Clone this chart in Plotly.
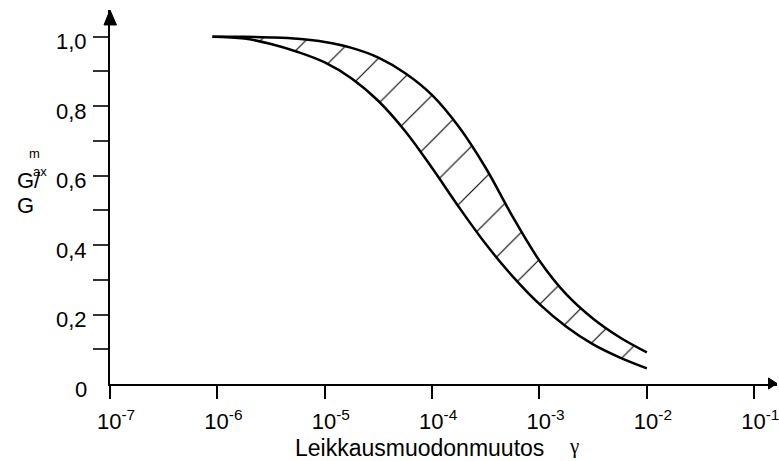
import plotly.graph_objects as go

# Data
gamma = [9e-7, 1.78e-6, 3.16e-6, 5.62e-6, 1e-5, 1.78e-5, 3.16e-5, 5.62e-5,
         1e-4, 1.78e-4, 3.16e-4, 5.62e-4, 1e-3, 1.78e-3, 3.16e-3, 5.62e-3, 1e-2]
upper = [1.0, 1.0, 0.998, 0.994, 0.985, 0.968, 0.940, 0.895,
         0.832, 0.740, 0.622, 0.482, 0.355, 0.258, 0.188, 0.134, 0.091]
lower = [1.0, 0.995, 0.979, 0.956, 0.926, 0.880, 0.815, 0.728,
         0.622, 0.509, 0.403, 0.310, 0.230, 0.165, 0.114, 0.076, 0.045]

x_tickvals = [1e-7, 1e-6, 1e-5, 1e-4, 1e-3, 1e-2, 1e-1]
x_ticktext = ["10<sup>-7</sup>", "10<sup>-6</sup>", "10<sup>-5</sup>", "10<sup>-4</sup>",
              "10<sup>-3</sup>", "10<sup>-2</sup>", "10<sup>-1</sup>"]
y_tickvals = [0.1, 0.2, 0.3, 0.4, 0.5, 0.6, 0.7, 0.8, 0.9, 1.0]
y_labelvals = [0, 0.2, 0.4, 0.6, 0.8, 1.0]
y_labeltext = ["0", "0,2", "0,4", "0,6", "0,8", "1,0"]

FONT = "Liberation Sans, Arial, sans-serif"

fig = go.Figure()
fig.add_trace(go.Scatter(x=gamma, y=lower, mode="lines", line=dict(color="black", width=2.5, shape="spline"),
                         showlegend=False, hoverinfo="skip"))
fig.add_trace(go.Scatter(x=gamma, y=upper, mode="lines", line=dict(color="black", width=2.5, shape="spline"),
                         fill="tonexty", fillcolor="rgba(0,0,0,0)",
                         fillpattern=dict(shape="/", size=32, solidity=0.035, fgcolor="black",
                                          fgopacity=1, bgcolor="white"),
                         showlegend=False, hoverinfo="skip"))

fig.update_layout(
    width=779, height=461,
    margin=dict(l=110, r=0, t=10, b=77),
    paper_bgcolor="white", plot_bgcolor="white",
    font=dict(family=FONT, size=22, color="black"),
    xaxis=dict(type="log", range=[-7, -0.788], showgrid=False, zeroline=False,
               showline=True, linecolor="black", linewidth=1.5,
               ticks="outside", ticklen=13, tickwidth=1.5, tickcolor="black",
               tickvals=x_tickvals, ticktext=x_ticktext, ticklabelshift=6,
               ticklabelstandoff=4, ticklabeloverflow="allow",
               tickfont=dict(family=FONT, size=22, color="black")),
    yaxis=dict(range=[0, 1.077], showgrid=False, zeroline=False,
               showline=True, linecolor="black", linewidth=2,
               ticks="outside", ticklen=15, tickwidth=1.5, tickcolor="#333333",
               tickvals=y_tickvals, showticklabels=False),
)

# arrowheads on the axes
fig.add_shape(type="path", xref="paper", yref="paper",
              path="M -0.009,0.960 L 0,1.0 L 0.0097,0.960 Z",
              fillcolor="black", line=dict(color="black", width=1))
fig.add_shape(type="path", xref="paper", yref="paper",
              path="M 0.9873,0.016 L 1.0,0.0013 L 0.9873,-0.0134 Z",
              fillcolor="black", line=dict(color="black", width=1))

# y tick labels (offset slightly below the ticks as in the reference)
for v, t in zip(y_labelvals, y_labeltext):
    fig.add_annotation(text=t, x=-0.0314, y=v, xref="paper", yref="y", showarrow=False,
                       xanchor="right", yanchor="middle", yshift=-5,
                       font=dict(family=FONT, size=22, color="black"))

def ann(text, x, y, size, xanchor="center", family=FONT):
    fig.add_annotation(text=text, x=x, y=y, xref="paper", yref="paper", showarrow=False,
                       xanchor=xanchor, yanchor="middle", font=dict(family=family, size=size, color="black"))

ann("G/", -0.142, 0.545, 22, xanchor="left")
ann("G", -0.142, 0.476, 22, xanchor="left")
ann("m", -0.1136, 0.6176, 13)
ann("ax", -0.1046, 0.5695, 13)
ann("Leikkausmuodonmuutos", 0.4634, -0.172, 23)
ann("γ", 0.696, -0.166, 21, family="Liberation Serif, Times New Roman, serif")

fig.write_html("out.html")
